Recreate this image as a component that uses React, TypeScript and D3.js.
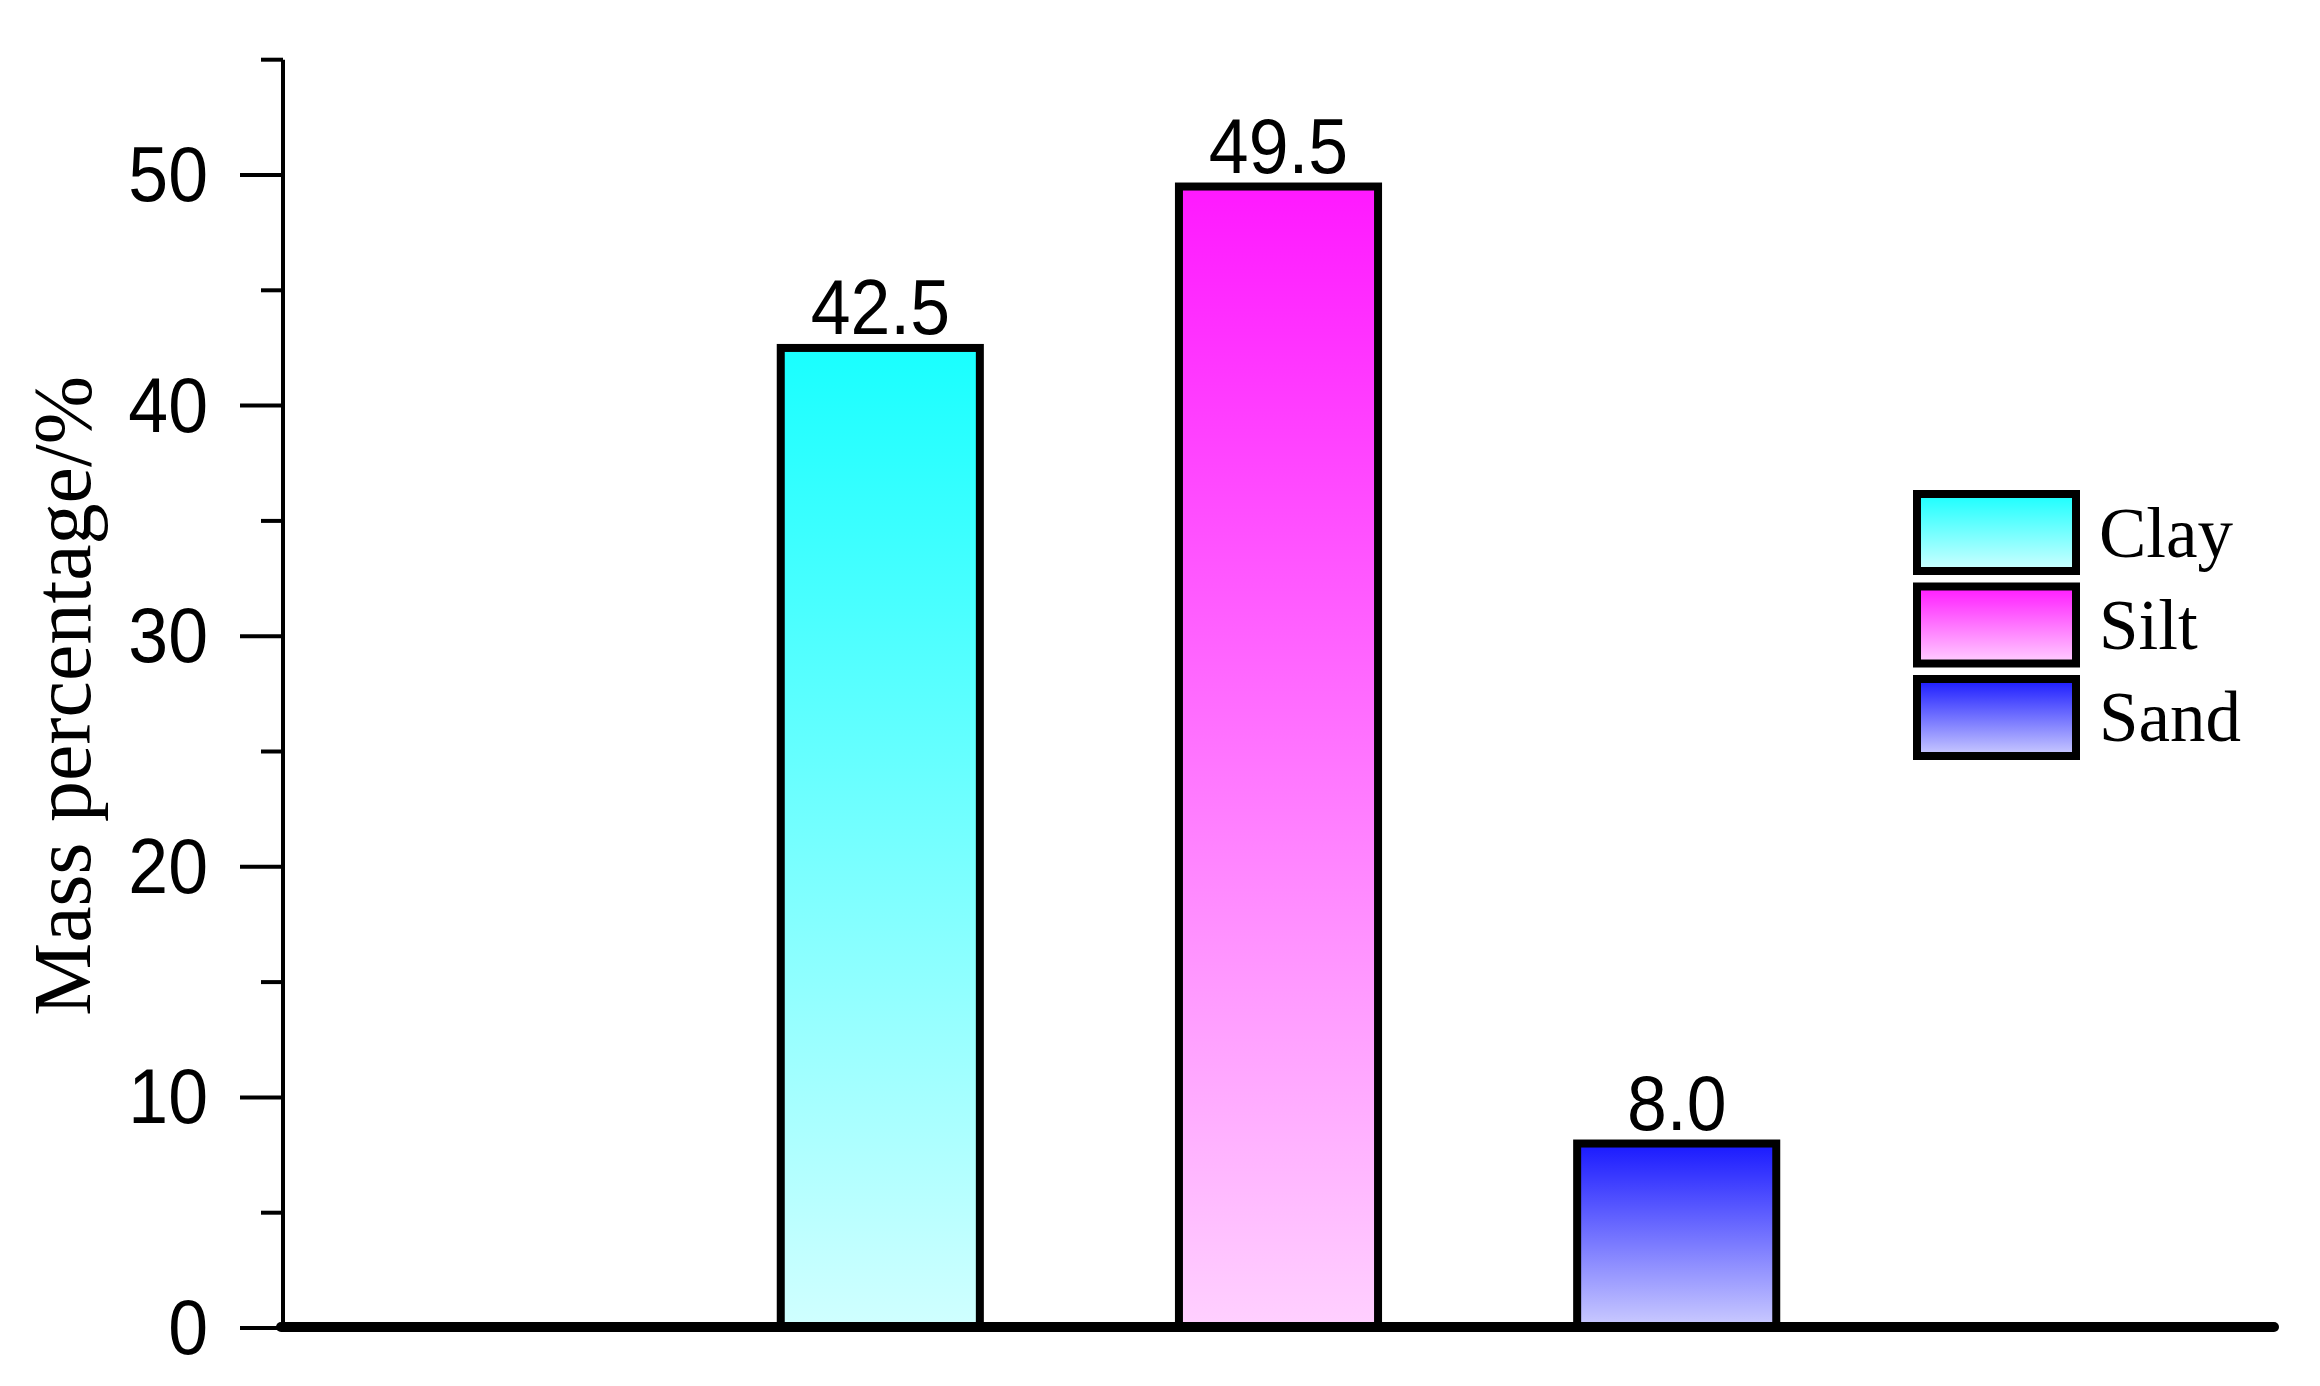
import React from "react";
import * as d3 from "d3";

const categories = ["Clay", "Silt", "Sand"];
const values = [42.5, 49.5, 8.0];
const xPositions = [1.5, 2.5, 3.5];
const topColors = ["#19FFFF", "#FF19FF", "#1919FF"];
const bottomColors = ["#D0FFFF", "#FFD0FF", "#CCCCFF"];
const majorTicks = [0, 10, 20, 30, 40, 50];
const minorTicks = [5, 15, 25, 35, 45, 55];
const yLabel = "Mass percentage/%";

const W = 2320;
const H = 1386;
const axisX = 283;
const axisRight = 2274;
const yBottom = 1328;
const yTop = 59.7;

export default function App() {
  const y = d3.scaleLinear().domain([0, 55]).range([yBottom, yTop]);
  const x = d3.scaleLinear().domain([0, 5]).range([axisX, axisRight]);
  const barW = x(0.5) - x(0);
  const sans = "'Liberation Sans', Arial, sans-serif";
  const serif = "'Liberation Serif', 'Times New Roman', serif";
  const sx = 0.93;

  return (
    <svg
      width={W}
      height={H}
      viewBox={`0 0 ${W} ${H}`}
      style={{ position: "absolute", left: 0, top: 0, background: "#fff" }}
    >
      <defs>
        {categories.map((c, i) => (
          <linearGradient key={c} id={`g${i}`} x1="0" y1="0" x2="0" y2="1">
            <stop offset="0%" stopColor={topColors[i]} />
            <stop offset="100%" stopColor={bottomColors[i]} />
          </linearGradient>
        ))}
      </defs>
      <rect x={0} y={0} width={W} height={H} fill="#fff" />

      {/* bars */}
      {categories.map((c, i) => {
        const cx = x(xPositions[i]);
        const top = y(values[i]);
        return (
          <g key={c}>
            <rect
              x={cx - barW / 2}
              y={top}
              width={barW}
              height={y(0) - top}
              fill={`url(#g${i})`}
              stroke="#000"
              strokeWidth={8}
            />
            <text
              transform={`translate(${cx},${top - 14}) scale(${sx},1)`}
              textAnchor="middle"
              fontFamily={sans}
              fontSize={77}
              fill="#000"
            >
              {values[i].toFixed(1)}
            </text>
          </g>
        );
      })}

      {/* y axis */}
      <line x1={axisX} x2={axisX} y1={yTop} y2={yBottom} stroke="#000" strokeWidth={4} />
      {majorTicks.map((t) => (
        <g key={`M${t}`}>
          <line x1={axisX - 43} x2={axisX} y1={y(t)} y2={y(t)} stroke="#000" strokeWidth={4} />
          <text
            transform={`translate(208,${y(t) + 26}) scale(${sx},1)`}
            textAnchor="end"
            fontFamily={sans}
            fontSize={77}
            fill="#000"
          >
            {t}
          </text>
        </g>
      ))}
      {minorTicks.map((t) => (
        <line key={`m${t}`} x1={axisX - 22} x2={axisX} y1={y(t)} y2={y(t)} stroke="#000" strokeWidth={4} />
      ))}

      {/* x axis */}
      <line
        x1={axisX - 2}
        x2={axisRight}
        y1={yBottom - 1}
        y2={yBottom - 1}
        stroke="#000"
        strokeWidth={10}
        strokeLinecap="round"
      />

      {/* y label */}
      <text
        transform={`translate(90,${(y(0) + y(55)) / 2 + 2}) rotate(-90)`}
        textAnchor="middle"
        fontFamily={serif}
        fontSize={82}
        fill="#000"
      >
        {yLabel}
      </text>

      {/* legend */}
      {categories.map((c, i) => (
        <g key={`L${c}`}>
          <rect
            x={1917}
            y={494 + i * 92.5}
            width={159}
            height={77}
            fill={`url(#g${i})`}
            stroke="#000"
            strokeWidth={8}
          />
          <text x={2099} y={557 + i * 92} fontFamily={serif} fontSize={71} fill="#000">
            {c}
          </text>
        </g>
      ))}
    </svg>
  );
}
